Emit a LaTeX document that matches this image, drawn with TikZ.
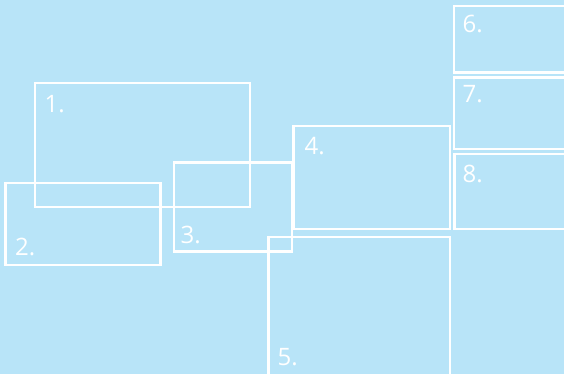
\documentclass[tikz,border=0pt]{standalone}
\usepackage{fontspec}
\setmainfont{Open Sans}
\definecolor{bg}{RGB}{184,228,248}
\begin{document}
\begin{tikzpicture}[x=1pt,y=-1pt,
  box/.style={draw=white, line width=2.2pt},
  num/.style={text=white, font=\fontsize{24}{24}\selectfont, anchor=base west, inner sep=0pt}]
\fill[bg] (0,0) rectangle (564,374);
\useasboundingbox (0,0) rectangle (564,374);
\begin{scope}
\clip (0,0) rectangle (564,374);
\draw[box] (35,83) rectangle (250,207);
\draw[box] (5.5,183) rectangle (160.5,265);
\draw[box] (174,162.5) rectangle (292,251.5);
\draw[box] (293.5,126) rectangle (450,229);
\draw[box] (268.5,237) rectangle (450,380);
\draw[box] (454,6) rectangle (570,72.5);
\draw[box] (454,77.5) rectangle (570,149);
\draw[box] (454.5,154) rectangle (570,229);
\end{scope}
\node[num] (n1) at (44.5,112.7) {1.};
\node[num] (n2) at (15,255.7) {2.};
\node[num] (n3) at (180.5,243.3) {3.};
\node[num] (n4) at (304.5,154.3) {4.};
\node[num] (n5) at (277.5,365) {5.};
\node[num] (n6) at (462.5,32.3) {6.};
\node[num] (n7) at (462.5,102.7) {7.};
\node[num] (n8) at (462.5,182.7) {8.};
\end{tikzpicture}
\end{document}
